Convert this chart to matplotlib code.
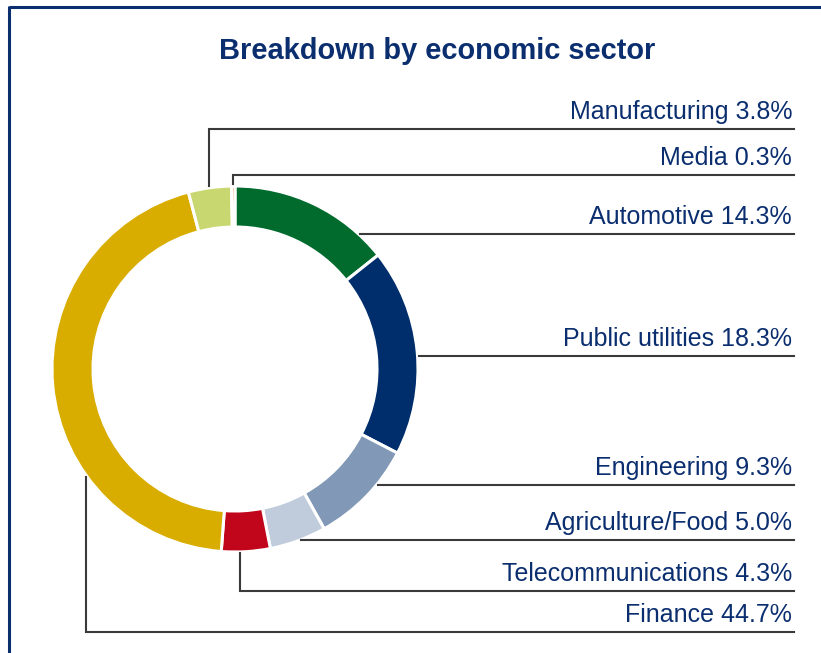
import numpy as np
import matplotlib
matplotlib.use("Agg")
import matplotlib.pyplot as plt

# Sector shares (%), listed clockwise from 12 o'clock
sectors = ["Automotive", "Public utilities", "Engineering", "Agriculture/Food",
           "Telecommunications", "Finance", "Manufacturing", "Media"]
shares = [14.3, 18.3, 9.3, 5.0, 4.3, 44.7, 3.8, 0.3]
colors = ["#006B2D", "#002D6B", "#8199B6", "#C0CCDC",
          "#C1061B", "#D8AD00", "#C8D76F", "#E8701A"]

TITLE = "Breakdown by economic sector"
NAVY = "#0B2E6F"
LINE = "#3A3A3A"

W, H = 821, 653
fig = plt.figure(figsize=(W / 100, H / 100), dpi=100)
ax = fig.add_axes([0, 0, 1, 1])
ax.set_xlim(0, W)
ax.set_ylim(H, 0)
ax.set_aspect("equal")
ax.axis("off")

# frame (top and left edges)
ax.plot([9, W + 5], [7, 7], color=NAVY, lw=2.2, solid_capstyle="butt")
ax.plot([9, 9], [6, H + 5], color=NAVY, lw=2.2, solid_capstyle="butt")

ax.text(437, 51, TITLE, ha="center", va="center", fontsize=20.9,
        fontweight="bold", color=NAVY, family="Liberation Sans")

cx, cy, R, ring = 235, 369, 183, 41
wedges, _ = ax.pie(shares, colors=colors, center=(cx, cy), radius=R,
                   startangle=-90, counterclock=True,
                   wedgeprops=dict(width=ring, edgecolor="white", linewidth=2.2))
ax.set_xlim(0, W)
ax.set_ylim(H, 0)


def edge_x(y):
    return cx + np.sqrt(R ** 2 - (y - cy) ** 2)


x_end = 794
label_y = {
    "Manufacturing": 129, "Media": 175, "Automotive": 234,
    "Public utilities": 356, "Engineering": 485, "Agriculture/Food": 540,
    "Telecommunications": 591, "Finance": 632,
}

for name, share in zip(sectors, shares):
    y = label_y[name]
    if name == "Manufacturing":
        xs, ys = [209, 209, x_end], [186, y, y]
    elif name == "Media":
        xs, ys = [233, 233, x_end], [184, y, y]
    elif name == "Telecommunications":
        xs, ys = [239.5, 239.5, x_end], [553, y, y]
    elif name == "Finance":
        xs, ys = [86, 86, x_end], [477, y, y]
    else:
        xs, ys = [edge_x(y) + 1, x_end], [y, y]
    ax.plot(xs, ys, color=LINE, lw=1.5, solid_joinstyle="miter")
    ax.text(792, y - 10, f"{name} {share:.1f}%", ha="right", va="baseline",
            fontsize=18, color=NAVY, family="Liberation Sans")

fig.savefig("out.png", dpi=100, facecolor="white")
